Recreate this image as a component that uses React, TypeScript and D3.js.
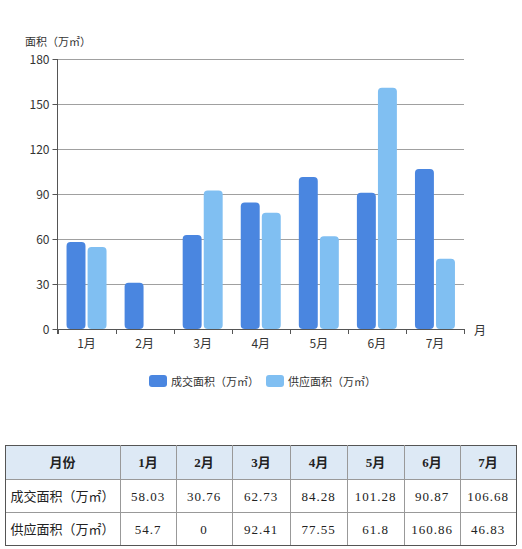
import React, { useEffect, useRef } from 'react';
import * as d3 from 'd3';

const months = ['1月', '2月', '3月', '4月', '5月', '6月', '7月'];
const dealArea = [58.03, 30.76, 62.73, 84.28, 101.28, 90.87, 106.68];
const supplyArea = [54.7, 0, 92.41, 77.55, 61.8, 160.86, 46.83];
const yTicks = [0, 30, 60, 90, 120, 150, 180];
const seriesNames = ['成交面积（万㎡）', '供应面积（万㎡）'];
const tableDeal = ['58.03', '30.76', '62.73', '84.28', '101.28', '90.87', '106.68'];
const tableSupply = ['54.7', '0', '92.41', '77.55', '61.8', '160.86', '46.83'];

const COLORS = ['#4a86e0', '#80bff2'];
const FONT = '"Noto Sans CJK SC", "Noto Sans", sans-serif';
const SERIF = '"Liberation Serif", "DejaVu Serif", "Noto Sans CJK SC", serif';

const App: React.FC = () => {
  const svgRef = useRef<SVGSVGElement>(null);

  useEffect(() => {
    if (!svgRef.current) return;
    const root = d3.select(svgRef.current);
    root.selectAll('*').remove();

    const W = 522;
    const H = 549;
    root.attr('width', W).attr('height', H);
    root.append('rect').attr('width', W).attr('height', H).attr('fill', '#fff');

    // chart area
    const left = 57.5;
    const right = 464;
    const top = 59;
    const bottom = 329;

    const x = d3.scaleBand<string>().domain(months).range([left, right]);
    const inner = d3.scaleBand<number>().domain([0, 1]).range([0, 40]).paddingInner(0.1);
    const y = d3.scaleLinear().domain([0, 180]).range([bottom, top]);

    const g = root.append('g');

    // grid lines
    g.selectAll('line.grid')
      .data(yTicks.filter((t) => t > 0))
      .enter()
      .append('line')
      .attr('class', 'grid')
      .attr('x1', left)
      .attr('x2', right)
      .attr('y1', (d) => Math.round(y(d)) + 0.5)
      .attr('y2', (d) => Math.round(y(d)) + 0.5)
      .attr('stroke', '#a0a0a0')
      .attr('stroke-width', 1);

    // bars
    const series = [dealArea, supplyArea];
    series.forEach((vals, si) => {
      const pts = vals.map((v, i) => ({ v, m: months[i] })).filter((d) => d.v > 0);
      g.selectAll(`rect.s${si}`)
        .data(pts)
        .enter()
        .append('rect')
        .attr('class', `s${si}`)
        .attr('x', (d) => (x(d.m) as number) + (x.bandwidth() - 40) / 2 + (inner(si) as number))
        .attr('y', (d) => y(d.v))
        .attr('width', inner.bandwidth())
        .attr('height', (d) => y(0) - y(d.v))
        .attr('rx', 4)
        .attr('fill', COLORS[si]);
    });

    // y axis
    g.append('line')
      .attr('x1', left).attr('x2', left)
      .attr('y1', top).attr('y2', bottom + 5)
      .attr('stroke', '#555');
    g.selectAll('line.ytick')
      .data(yTicks)
      .enter()
      .append('line')
      .attr('x1', left - 5).attr('x2', left)
      .attr('y1', (d) => Math.round(y(d)) + 0.5)
      .attr('y2', (d) => Math.round(y(d)) + 0.5)
      .attr('stroke', '#555');
    g.selectAll('text.ylab')
      .data(yTicks)
      .enter()
      .append('text')
      .attr('x', left - 8)
      .attr('y', (d) => y(d) + 4.5)
      .attr('text-anchor', 'end')
      .attr('font-family', FONT)
      .attr('font-size', 12)
      .attr('fill', '#333')
      .text((d) => d);
    g.append('text')
      .attr('x', 25).attr('y', 46)
      .attr('font-family', FONT).attr('font-size', 11).attr('fill', '#333')
      .text('面积（万㎡）');

    // x axis
    g.append('line')
      .attr('x1', left).attr('x2', right)
      .attr('y1', bottom + 0.5).attr('y2', bottom + 0.5)
      .attr('stroke', '#555');
    const bounds = months.map((m) => x(m) as number).concat([right]);
    g.selectAll('line.xtick')
      .data(bounds)
      .enter()
      .append('line')
      .attr('x1', (d) => Math.round(d) + 0.5).attr('x2', (d) => Math.round(d) + 0.5)
      .attr('y1', bottom).attr('y2', bottom + 5)
      .attr('stroke', '#555');
    g.selectAll('text.xlab')
      .data(months)
      .enter()
      .append('text')
      .attr('x', (d) => (x(d) as number) + x.bandwidth() / 2)
      .attr('y', bottom + 19)
      .attr('text-anchor', 'middle')
      .attr('font-family', FONT).attr('font-size', 12).attr('fill', '#333')
      .text((d) => d);
    g.append('text')
      .attr('x', 474).attr('y', bottom + 6)
      .attr('font-family', FONT).attr('font-size', 12).attr('fill', '#333')
      .text('月');

    // legend
    const legendX = [149, 266];
    seriesNames.forEach((name, i) => {
      g.append('rect')
        .attr('x', legendX[i]).attr('y', 375)
        .attr('width', 18).attr('height', 12).attr('rx', 3)
        .attr('fill', COLORS[i]);
      g.append('text')
        .attr('x', legendX[i] + 22).attr('y', 385.5)
        .attr('font-family', FONT).attr('font-size', 11).attr('fill', '#333')
        .text(name);
    });

    // data table
    const colX = [5, 120, 176, 232, 290, 347, 404, 460, 516];
    const rowY = [445, 479, 512, 545];
    const rows = [
      ['月份', ...months],
      [seriesNames[0], ...tableDeal],
      [seriesNames[1], ...tableSupply],
    ];
    const t = root.append('g');
    t.append('rect')
      .attr('x', colX[0]).attr('y', rowY[0])
      .attr('width', colX[8] - colX[0]).attr('height', rowY[1] - rowY[0])
      .attr('fill', '#dde9f5');
    rowY.forEach((ry, i) => {
      t.append('line')
        .attr('x1', colX[0]).attr('x2', colX[8])
        .attr('y1', ry + 0.5).attr('y2', ry + 0.5)
        .attr('stroke', i === 0 || i === 3 ? '#555' : '#999');
    });
    colX.forEach((cx, i) => {
      t.append('line')
        .attr('x1', cx + 0.5).attr('x2', cx + 0.5)
        .attr('y1', rowY[0]).attr('y2', rowY[3])
        .attr('stroke', i === 0 || i === 8 ? '#555' : '#999');
    });
    rows.forEach((row, ri) => {
      row.forEach((cell, ci) => {
        t.append('text')
          .attr('x', (colX[ci] + colX[ci + 1]) / 2)
          .attr('y', (rowY[ri] + rowY[ri + 1]) / 2 + 5)
          .attr('text-anchor', 'middle')
          .attr('font-family', SERIF)
          .attr('font-size', 13)
          .attr('font-weight', ri === 0 ? 'bold' : 'normal')
          .attr('letter-spacing', ri === 0 || ci === 0 ? 0 : 1)
          .attr('fill', '#222')
          .text(cell);
      });
    });
  }, []);

  return (
    <div style={{ position: 'absolute', left: 0, top: 0 }}>
      <svg ref={svgRef} style={{ display: 'block' }}></svg>
    </div>
  );
};

export default App;
